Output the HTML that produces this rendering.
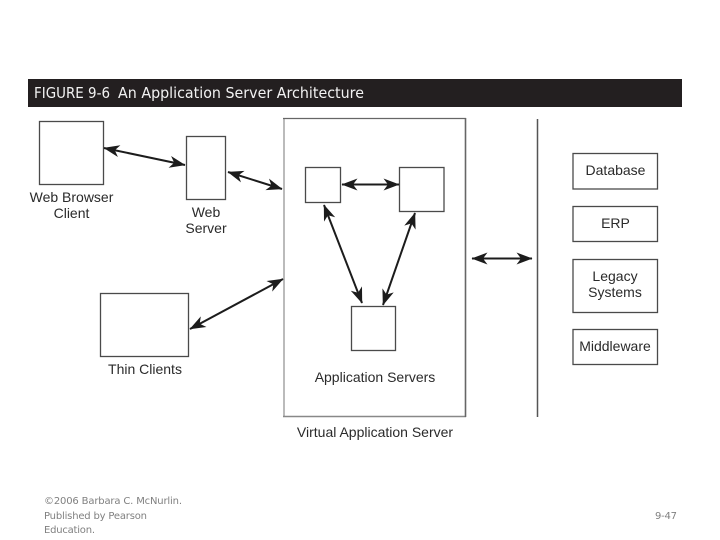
<!DOCTYPE html>
<html>
<head>
<meta charset="utf-8">
<style>
html,body{margin:0;padding:0;background:#fff;width:720px;height:540px;overflow:hidden}
svg{display:block}
.l{font-family:"Liberation Sans",sans-serif;font-size:14px;fill:#2a2a2a;text-anchor:middle}
.f{font-family:"DejaVu Sans",sans-serif;font-size:10px;fill:#808080}
.t{font-family:"DejaVu Sans",sans-serif;font-size:15px;fill:#f2f2f2}
.b{fill:#fff;stroke:#4a4a4a;stroke-width:1.3}
.a{stroke:#1c1c1c;stroke-width:2;fill:none;marker-start:url(#h);marker-end:url(#h)}
</style>
</head>
<body>
<svg width="720" height="540" viewBox="0 0 720 540" xmlns="http://www.w3.org/2000/svg">
<defs>
<marker id="h" markerUnits="userSpaceOnUse" markerWidth="18" markerHeight="14" viewBox="0 -7 18 14" refX="15.5" refY="0" orient="auto-start-reverse">
<path d="M16 0 L0 -6 L4.5 0 L0 6 Z" fill="#1c1c1c"/>
</marker>
</defs>
<rect x="28" y="79" width="654" height="28" fill="#231f20"/>
<text class="t" x="34" y="98" textLength="76" lengthAdjust="spacingAndGlyphs">FIGURE 9-6</text>
<text class="t" x="118" y="98" textLength="246" lengthAdjust="spacingAndGlyphs">An Application Server Architecture</text>

<rect class="b" x="39.5" y="121.5" width="64" height="63"/>
<rect class="b" x="186.5" y="136.5" width="39" height="63"/>
<rect x="284" y="118.5" width="181.5" height="298" fill="#fff"/>
<line x1="284" y1="118" x2="284" y2="417" stroke="#aaa" stroke-width="1.6"/>
<line x1="283" y1="118.5" x2="466" y2="118.5" stroke="#666" stroke-width="1.2"/>
<line x1="283" y1="416.5" x2="466" y2="416.5" stroke="#888" stroke-width="1.4"/>
<line x1="465.5" y1="118" x2="465.5" y2="417" stroke="#666" stroke-width="1.6"/>
<rect class="b" x="305.5" y="167.5" width="35" height="35"/>
<rect class="b" x="399.5" y="167.5" width="44.5" height="44"/>
<rect class="b" x="351.5" y="306.5" width="44" height="44"/>
<rect class="b" x="100.5" y="293.5" width="88" height="63"/>
<line x1="537.5" y1="119" x2="537.5" y2="417" stroke="#555" stroke-width="1.5"/>
<rect class="b" x="573" y="153.5" width="84.5" height="35.5"/>
<rect class="b" x="573" y="206.5" width="84.5" height="35"/>
<rect class="b" x="573" y="259.5" width="84.5" height="53"/>
<rect class="b" x="573" y="329.5" width="84.5" height="35"/>

<line class="a" x1="104" y1="148" x2="185" y2="165"/>
<line class="a" x1="228" y1="172" x2="282" y2="189"/>
<line class="a" x1="190" y1="329" x2="283" y2="279"/>
<line class="a" x1="342" y1="184.5" x2="399" y2="184.5"/>
<line class="a" x1="324" y1="205" x2="362" y2="303"/>
<line class="a" x1="415" y1="213" x2="383" y2="305"/>
<line class="a" x1="472" y1="258.5" x2="532" y2="258.5"/>

<text class="l" x="71.5" y="202">Web Browser</text>
<text class="l" x="71.5" y="218">Client</text>
<text class="l" x="206" y="217">Web</text>
<text class="l" x="206" y="233">Server</text>
<text class="l" x="145" y="374">Thin Clients</text>
<text class="l" x="375" y="382">Application Servers</text>
<text class="l" x="375" y="437">Virtual Application Server</text>
<text class="l" x="615.5" y="175">Database</text>
<text class="l" x="615.5" y="228">ERP</text>
<text class="l" x="615" y="281">Legacy</text>
<text class="l" x="615" y="297">Systems</text>
<text class="l" x="615" y="351">Middleware</text>

<text class="f" x="44" y="504" textLength="138">©2006 Barbara C. McNurlin.</text>
<text class="f" x="44" y="519" textLength="103">Published by Pearson</text>
<text class="f" x="44" y="533" textLength="51">Education.</text>
<text class="f" x="655" y="519" textLength="22">9-47</text>
</svg>
</body>
</html>
